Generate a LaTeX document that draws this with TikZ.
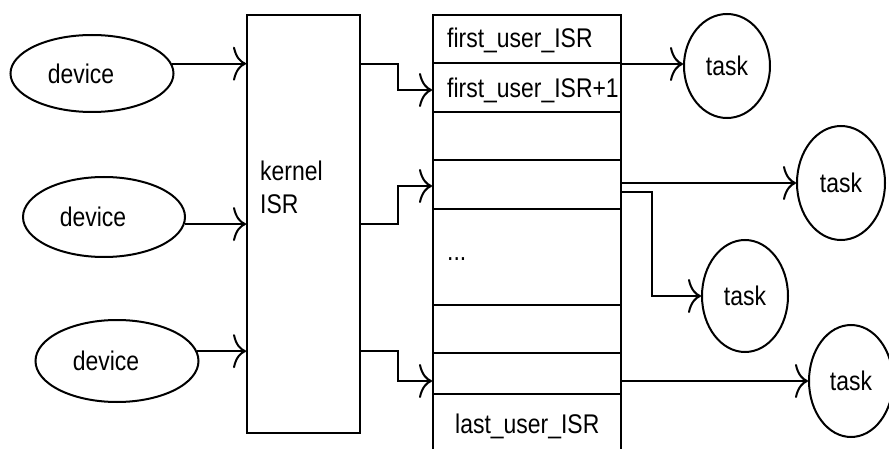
\documentclass[tikz,border=0pt]{standalone}
\usepackage{fontspec}
\setmainfont[FakeStretch=0.85]{Liberation Sans}
\usetikzlibrary{shapes.geometric,arrows.meta}
\begin{document}
\begin{tikzpicture}[x=1pt,y=-1pt,
  font=\fontsize{27}{33}\selectfont,
  lw/.style={line width=2pt},
  dev/.style={ellipse, draw, lw, inner sep=0pt},
  tsk/.style={ellipse, draw, lw, inner sep=0pt, minimum width=86pt},
  rowbox/.style={rectangle, draw, lw, inner sep=0pt, minimum width=188pt},
  conn/.style={lw, -{To[length=13pt,width=34pt]}},
  lbl/.style={anchor=base west, inner sep=0pt}]
\useasboundingbox (0,0) rectangle (889,449);
% devices
\node[dev, minimum width=163pt, minimum height=77pt] (d1) at (92,73.5) {\hspace*{-22pt}device};
\node[dev, minimum width=162pt, minimum height=80pt] (d2) at (104,217) {\hspace*{-22pt}device};
\node[dev, minimum width=163pt, minimum height=82pt] (d3) at (117,361) {\hspace*{-22pt}device};
% kernel ISR
\node[draw, lw, minimum width=113pt, minimum height=418pt, inner sep=0pt] (k) at (303.5,224) {};
\node[anchor=west, align=left, inner sep=0pt] (kt) at (260,187) {kernel\\ISR};
% table rows
\node[rowbox, minimum height=48pt] (r1) at (527,39) {};
\node[rowbox, minimum height=49pt] (r2) at (527,87.5) {};
\node[rowbox, minimum height=48pt] (r3) at (527,136) {};
\node[rowbox, minimum height=49pt] (r4) at (527,184.5) {};
\node[rowbox, minimum height=96pt] (r5) at (527,257) {};
\node[rowbox, minimum height=48pt] (r6) at (527,329) {};
\node[rowbox, minimum height=41pt] (r7) at (527,373.5) {};
\node[rowbox, minimum height=71pt] (r8) at (527,429.5) {};
\node[lbl] (l1) at (447,48) {first\_user\_ISR};
\node[lbl] (l2) at (447,98) {first\_user\_ISR+1};
\node[lbl] (l5) at (447,261) {...};
\node[lbl] (l8) at (455,433) {last\_user\_ISR};
% tasks
\node[tsk, minimum height=104pt] (t1) at (727,66) {task};
\node[tsk, minimum width=88pt, minimum height=114pt] (t2) at (841,183) {task};
\node[tsk, minimum height=112pt] (t3) at (745,296) {task};
\node[tsk, minimum width=84pt, minimum height=112pt] (t4) at (851,381) {task};
% connectors
\draw[conn] (d1.7) -- (d1.7 -| k.west);
\draw[conn] (d2.-5) -- (d2.-5 -| k.west);
\draw[conn] (d3.7) -- (d3.7 -| k.west);
\draw[conn] (k.east |- d1.7) -- ++(37,0) |- ([yshift=-2.5pt]r2.west);
\draw[conn] (k.east |- d2.-5) -- ++(37,0) |- ([yshift=-1.5pt]r4.west);
\draw[conn] (k.east |- d3.7) -- ++(37,0) |- ([yshift=-7.5pt]r7.west);
\draw[conn] (r1.south east) -- (r1.south east -| t1.west);
\draw[conn] (r4.east |- t2.west) -- (t2.west);
\draw[conn] ([yshift=-7.5pt]r4.east) -- ++(30,0) |- (t3.west);
\draw[conn] (r7.east |- t4.west) -- (t4.west);
\end{tikzpicture}
\end{document}
